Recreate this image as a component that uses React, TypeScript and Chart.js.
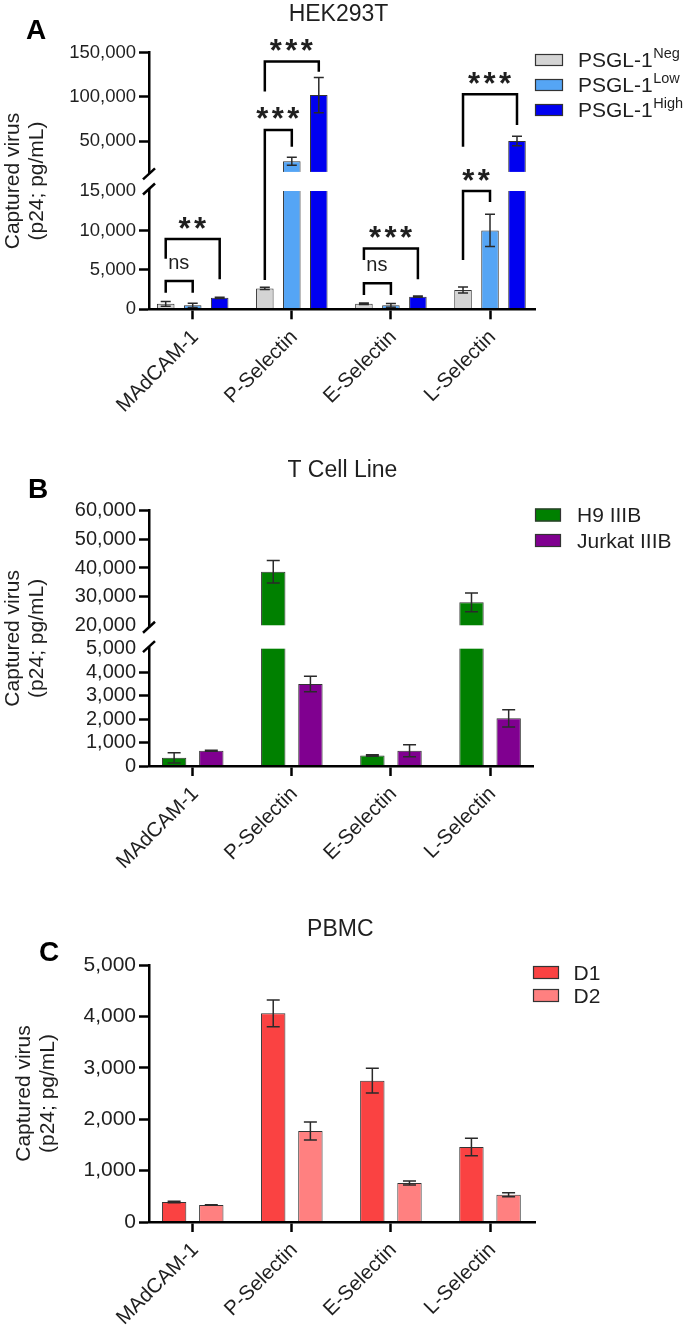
import React, { useEffect, useRef } from 'react';
import { Chart, registerables, LinearScale } from 'chart.js';

Chart.register(...registerables);

const FONT = "'Liberation Sans', Arial, Helvetica, sans-serif";
const INK = '#1f1f1f';

// ---------------- data ----------------
const categories = ['MAdCAM-1', 'P-Selectin', 'E-Selectin', 'L-Selectin'];

// Panel A – HEK293T
const hekNeg = [700, 2650, 700, 2450];
const hekNegErr = [300, 150, 100, 380];
const hekLow = [500, 27000, 500, 10000];
const hekLowErr = [280, 4500, 250, 2050];
const hekHigh = [1450, 102000, 1600, 50000];
const hekHighErr = [80, 20000, 80, 5500];
const hekTicks = [0, 5000, 10000, 15000, 50000, 100000, 150000];
// significance brackets: category, from/to series, heights in data units
const hekBrackets = [
  { cat: 0, from: 0, to: 1, top: 3600, left: 2100, right: 2100, label: 'ns' },
  { cat: 0, from: 0, to: 2, top: 8900, left: 6400, right: 3800, label: '**' },
  { cat: 1, from: 0, to: 1, top: 62500, left: 3700, right: 43500, label: '***' },
  { cat: 1, from: 0, to: 2, top: 140000, left: 106000, right: 128500, label: '***' },
  { cat: 2, from: 0, to: 1, top: 3300, left: 1800, right: 1800, label: 'ns' },
  { cat: 2, from: 0, to: 2, top: 7700, left: 6250, right: 3800, label: '***' },
  { cat: 3, from: 0, to: 1, top: 15000, left: 6250, right: 13600, label: '**' },
  { cat: 3, from: 0, to: 2, top: 103000, left: 43500, right: 68000, label: '***' },
];

// Panel B – T Cell Line
const h9 = [350, 38700, 450, 28000];
const h9Err = [220, 3900, 30, 3300];
const jurkat = [650, 3500, 650, 2030];
const jurkatErr = [20, 330, 260, 370];
const tcellTicks = [0, 1000, 2000, 3000, 4000, 5000, 20000, 30000, 40000, 50000, 60000];

// Panel C – PBMC
const d1 = [390, 4060, 2750, 1460];
const d1Err = [15, 260, 240, 170];
const d2 = [330, 1770, 760, 530];
const d2Err = [5, 175, 40, 40];
const pbmcTicks = [0, 1000, 2000, 3000, 4000, 5000];

// ---------------- broken linear scale ----------------
class BrokenLinearScale extends LinearScale {
  static id = 'brokenLinear';
  static defaults = {};
  getPixelForValue(value: any) {
    const b: any = (this.options as any).brk;
    if (value === null || value === undefined || isNaN(value)) return NaN;
    let dec: number;
    if (value <= b.lowMax) dec = ((value - this.min) / (b.lowMax - this.min)) * b.lowFrac;
    else if (value >= b.highMin)
      dec = b.lowFrac + b.gapFrac + ((value - b.highMin) / (this.max - b.highMin)) * (1 - b.lowFrac - b.gapFrac);
    else dec = b.lowFrac + b.gapFrac / 2;
    return this.getPixelForDecimal(dec);
  }
  getValueForPixel(pixel: number) {
    const b: any = (this.options as any).brk;
    const dec = this.getDecimalForPixel(pixel);
    if (dec <= b.lowFrac) return this.min + (dec / b.lowFrac) * (b.lowMax - this.min);
    const hs = b.lowFrac + b.gapFrac;
    if (dec >= hs) return b.highMin + ((dec - hs) / (1 - hs)) * (this.max - b.highMin);
    return (b.lowMax + b.highMin) / 2;
  }
}
Chart.register(BrokenLinearScale as any);

// ---------------- panel configs ----------------
const panelA: any = {
  height: 430, areaTop: 52.7, xAxisHeight: 120.7, axisLeft: 149, axisRight: 535,
  xMin: -0.441, xMax: 3.454, yMax: 150000, yTicks: hekTicks, yTitlePad: 1, tickSize: 18.5,
  brk: { lowMax: 15000, highMin: 15000, lowFrac: 0.461, gapFrac: 0.0744 }, hideTicks: [15000],
  title: 'HEK293T', titleX: 339, titleY: 12.5, letter: 'A', letterX: 26, letterY: 29,
  catPct: 0.817, barPct: 0.65, capW: 10,
  legend: { boxX: 535, boxW: 28, boxH: 12, textX: 578, y0: 60, dy: 25 },
  series: [
    { name: 'PSGL-1', sup: 'Neg', data: hekNeg, err: hekNegErr, color: '#d4d4d4' },
    { name: 'PSGL-1', sup: 'Low', data: hekLow, err: hekLowErr, color: '#55a5f5' },
    { name: 'PSGL-1', sup: 'High', data: hekHigh, err: hekHighErr, color: '#0000f0' },
  ],
  brackets: hekBrackets,
};

const panelB: any = {
  height: 455, areaTop: 80.7, xAxisHeight: 119, axisLeft: 149, axisRight: 533.5,
  xMin: -0.441, xMax: 3.438, yMax: 60000, yTicks: tcellTicks, yTitlePad: 1, tickSize: 20,
  brk: { lowMax: 5000, highMin: 20000, lowFrac: 0.4595, gapFrac: 0.0917 }, hideTicks: [5000, 20000],
  title: 'T Cell Line', titleX: 342, titleY: 37.5, letter: 'B', letterX: 29, letterY: 58,
  catPct: 0.75, barPct: 0.656, capW: 13,
  legend: { boxX: 535, boxW: 26, boxH: 13, textX: 577, y0: 85, dy: 25.5 },
  series: [
    { name: 'H9 IIIB', data: h9, err: h9Err, color: '#008000' },
    { name: 'Jurkat IIIB', data: jurkat, err: jurkatErr, color: '#800090' },
  ],
  brackets: [],
};

const panelC: any = {
  height: 444, areaTop: 80, xAxisHeight: 107, axisLeft: 149, axisRight: 535,
  xMin: -0.441, xMax: 3.454, yMax: 5000, yTicks: pbmcTicks, yTitlePad: 12, tickSize: 21,
  brk: null, hideTicks: [],
  title: 'PBMC', titleX: 340.5, titleY: 42.5, letter: 'C', letterX: 40, letterY: 66,
  catPct: 0.75, barPct: 0.656, capW: 13,
  legend: { boxX: 533, boxW: 26, boxH: 13, textX: 573.5, y0: 87.5, dy: 23 },
  series: [
    { name: 'D1', data: d1, err: d1Err, color: '#fa4242' },
    { name: 'D2', data: d2, err: d2Err, color: '#ff8080' },
  ],
  brackets: [],
};

// ---------------- helpers ----------------
function drawCentered(ctx: CanvasRenderingContext2D, text: string, cx: number, cy: number, align: 'center' | 'left' = 'center') {
  ctx.textAlign = 'left';
  ctx.textBaseline = 'alphabetic';
  const m = ctx.measureText(text);
  const w = m.actualBoundingBoxLeft + m.actualBoundingBoxRight;
  const x = align === 'center' ? cx - w / 2 + m.actualBoundingBoxLeft : cx + m.actualBoundingBoxLeft;
  const y = cy + (m.actualBoundingBoxAscent - m.actualBoundingBoxDescent) / 2;
  ctx.fillText(text, x, y);
}

function decorPlugin(p: any) {
  return {
    id: 'decor',
    afterDatasetsDraw(chart: any) {
      const { ctx, chartArea: a } = chart;
      const y = chart.scales.y;
      ctx.save();
      if (p.brk) {
        const gTop = y.getPixelForDecimal(p.brk.lowFrac + p.brk.gapFrac);
        const gBot = y.getPixelForDecimal(p.brk.lowFrac);
        ctx.fillStyle = '#ffffff';
        ctx.fillRect(a.left + 2, gTop, a.right - a.left - 2, gBot - gTop);
        ctx.fillRect(a.left - 4, gTop + 2, 8, gBot - gTop - 4);
        ctx.strokeStyle = '#000';
        ctx.lineWidth = 2.5;
        for (const cy of [gTop + 2, gBot - 2]) {
          ctx.beginPath();
          ctx.moveTo(a.left - 6, cy + 5.5);
          ctx.lineTo(a.left + 6, cy - 5.5);
          ctx.stroke();
        }
      }
      // error bars
      ctx.strokeStyle = '#2a2a2a';
      ctx.lineWidth = 1.5;
      p.series.forEach((s: any, di: number) => {
        const meta = chart.getDatasetMeta(di);
        s.data.forEach((v: number, i: number) => {
          const bx = meta.data[i].x;
          const yt = y.getPixelForValue(v + s.err[i]);
          const yb = y.getPixelForValue(Math.max(0, v - s.err[i]));
          const h = p.capW / 2;
          ctx.beginPath();
          ctx.moveTo(bx, yt); ctx.lineTo(bx, yb);
          ctx.moveTo(bx - h, yt); ctx.lineTo(bx + h, yt);
          ctx.moveTo(bx - h, yb); ctx.lineTo(bx + h, yb);
          ctx.stroke();
        });
      });
      // significance brackets
      ctx.strokeStyle = '#000';
      ctx.lineWidth = 2.5;
      ctx.lineJoin = 'miter';
      ctx.lineCap = 'butt';
      ctx.fillStyle = INK;
      for (const b of p.brackets) {
        const xl = chart.getDatasetMeta(b.from).data[b.cat].x;
        const xr = chart.getDatasetMeta(b.to).data[b.cat].x;
        const yt = y.getPixelForValue(b.top);
        const yl = y.getPixelForValue(b.left);
        const yr = y.getPixelForValue(b.right);
        ctx.beginPath();
        ctx.moveTo(xl, yl); ctx.lineTo(xl, yt); ctx.lineTo(xr, yt); ctx.lineTo(xr, yr);
        ctx.stroke();
        const mid = (xl + xr) / 2;
        if (b.label === 'ns') {
          ctx.font = `20px ${FONT}`;
          drawCentered(ctx, b.label, mid, yt - 17.5);
        } else {
          ctx.font = `bold 31px ${FONT}`;
          const chars = b.label.split('');
          chars.forEach((c: string, k: number) => {
            drawCentered(ctx, c, mid + (k - (chars.length - 1) / 2) * 15.5, yt - 16.5);
          });
        }
      }
      ctx.restore();
    },
    afterDraw(chart: any) {
      const { ctx } = chart;
      ctx.save();
      const L = p.legend;
      p.series.forEach((s: any, i: number) => {
        const cy = L.y0 + i * L.dy;
        ctx.fillStyle = s.color;
        ctx.fillRect(L.boxX, cy - L.boxH / 2, L.boxW, L.boxH);
        ctx.strokeStyle = '#333';
        ctx.lineWidth = 1.2;
        ctx.strokeRect(L.boxX + 0.5, cy - L.boxH / 2 + 0.5, L.boxW - 1, L.boxH - 1);
        ctx.fillStyle = INK;
        ctx.font = `21px ${FONT}`;
        ctx.textAlign = 'left';
        ctx.textBaseline = 'middle';
        ctx.fillText(s.name, L.textX, cy + 1.5);
        if (s.sup) {
          const w = ctx.measureText(s.name).width;
          ctx.font = `14.5px ${FONT}`;
          ctx.fillText(s.sup, L.textX + w + 0.5, cy - 6);
        }
      });
      ctx.fillStyle = INK;
      ctx.font = `23px ${FONT}`;
      drawCentered(ctx, p.title, p.titleX, p.titleY);
      ctx.fillStyle = '#000';
      ctx.font = `bold 28px ${FONT}`;
      drawCentered(ctx, p.letter, p.letterX, p.letterY, 'left');
      ctx.restore();
    },
  };
}

function makeChart(canvas: HTMLCanvasElement, p: any) {
  const datasets = p.series.map((s: any) => ({
    label: s.sup ? `${s.name} ${s.sup}` : s.name,
    data: s.data.map((v: number, i: number) => ({ x: i, y: v })),
    backgroundColor: s.color,
    borderColor: '#333',
    borderWidth: 1,
    borderSkipped: 'start',
    categoryPercentage: p.catPct,
    barPercentage: p.barPct,
  }));
  const yType = p.brk ? { type: 'brokenLinear', brk: p.brk } : { type: 'linear' };
  return new Chart(canvas, {
    type: 'bar',
    data: { datasets },
    options: {
      responsive: false,
      animation: false,
      devicePixelRatio: 1,
      layout: { autoPadding: false, padding: { top: p.areaTop, right: 685 - p.axisRight, left: 0, bottom: 0 } },
      plugins: { legend: { display: false }, tooltip: { enabled: false }, title: { display: false } },
      scales: {
        x: {
          type: 'linear',
          offset: false,
          min: p.xMin,
          max: p.xMax,
          afterBuildTicks: (s: any) => { s.ticks = categories.map((_, i) => ({ value: i })); },
          afterFit: (s: any) => { s.height = p.xAxisHeight; },
          ticks: {
            callback: (v: any) => categories[Math.round(Number(v))] ?? '',
            minRotation: 45, maxRotation: 45, autoSkip: false,
            font: { family: FONT, size: 20.5 }, color: INK, padding: 6, labelOffset: 2.5,
          },
          grid: { display: true, offset: false, drawOnChartArea: false, drawTicks: true, tickLength: 10, tickWidth: 2.5, tickColor: '#000' },
          border: { display: true, width: 2.5, color: '#000', z: 1 },
        },
        y: {
          ...yType,
          min: 0,
          max: p.yMax,
          afterBuildTicks: (s: any) => { s.ticks = p.yTicks.map((v: number) => ({ value: v })); },
          afterFit: (s: any) => { s.width = p.axisLeft; },
          ticks: {
            callback: (v: any) => Number(v).toLocaleString('en-US'),
            autoSkip: false, font: { family: FONT, size: p.tickSize }, color: INK, padding: 3,
          },
          grid: {
            display: true, drawOnChartArea: false, drawTicks: true, tickLength: 10, tickWidth: 2.5,
            tickColor: (c: any) => (c.tick && p.hideTicks.includes(c.tick.value) ? 'rgba(0,0,0,0)' : '#000'),
          },
          border: { display: true, width: 2.5, color: '#000' },
          title: {
            display: true,
            text: ['Captured virus', '(p24; pg/mL)'],
            font: { family: FONT, size: 21, lineHeight: 1.15 },
            color: INK,
            padding: { top: p.yTitlePad, bottom: 0 },
          },
        },
      },
    } as any,
    plugins: [decorPlugin(p)],
  });
}

export default function App() {
  const refA = useRef<HTMLCanvasElement>(null);
  const refB = useRef<HTMLCanvasElement>(null);
  const refC = useRef<HTMLCanvasElement>(null);
  useEffect(() => {
    const charts = [
      makeChart(refA.current!, panelA),
      makeChart(refB.current!, panelB),
      makeChart(refC.current!, panelC),
    ];
    return () => charts.forEach((c) => c.destroy());
  }, []);
  const cs = (top: number, h: number): React.CSSProperties => ({ position: 'absolute', left: 0, top, width: 685, height: h, display: 'block' });
  return (
    <div style={{ position: 'absolute', left: 0, top: 0, width: 685, height: 1329, background: '#fff', overflow: 'hidden' }}>
      <canvas ref={refA} width={685} height={panelA.height} style={cs(0, panelA.height)} />
      <canvas ref={refB} width={685} height={panelB.height} style={cs(430, panelB.height)} />
      <canvas ref={refC} width={685} height={panelC.height} style={cs(885, panelC.height)} />
    </div>
  );
}
